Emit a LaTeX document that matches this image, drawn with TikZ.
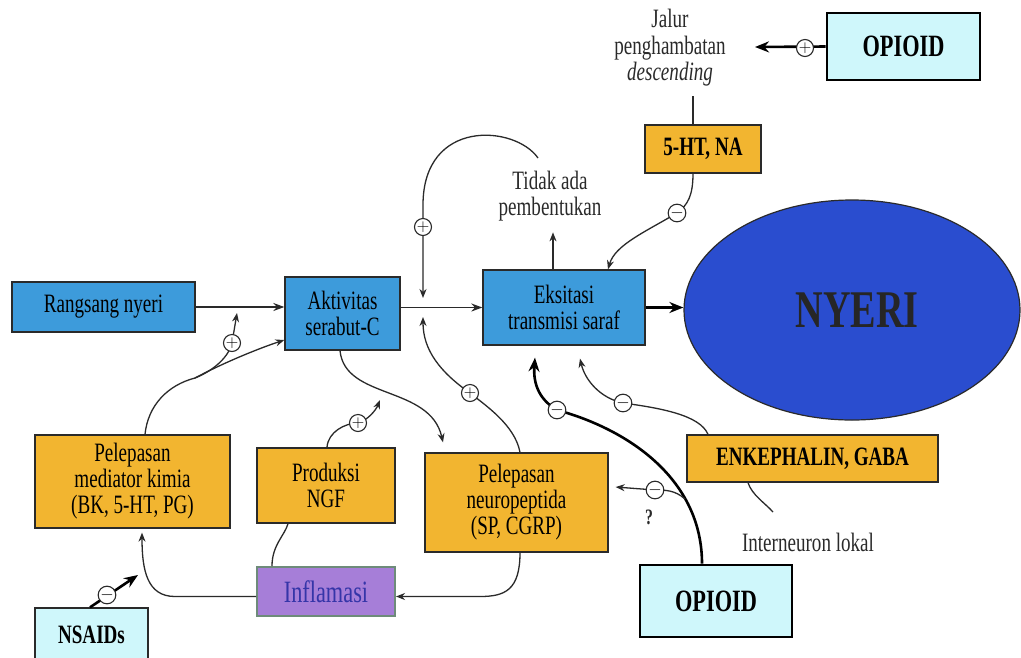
\documentclass[tikz,border=0pt]{standalone}
\usepackage{fontspec}
\setmainfont{Liberation Serif}[FakeStretch=0.72]
\usetikzlibrary{arrows.meta,shapes.geometric}
\definecolor{bluebox}{HTML}{3D9BDB}
\definecolor{orangebox}{HTML}{F2B530}
\definecolor{cyanbox}{HTML}{CFF7FB}
\definecolor{purplebox}{HTML}{A67ED8}
\definecolor{purpleedge}{HTML}{6E8B7A}
\definecolor{purpletext}{HTML}{3535A8}
\definecolor{ellblue}{HTML}{2A4DCF}
\definecolor{ink}{HTML}{2A2A2A}
\tikzset{
 box/.style={draw=ink, line width=1.3pt, align=center, inner sep=0pt, font=\fontsize{26.5}{26}\selectfont},
 bluebx/.style={box, fill=bluebox},
 orangebx/.style={box, fill=orangebox},
 cyanbx/.style={box, fill=cyanbox, draw=black, line width=2.6pt, font=\bfseries\fontsize{31}{31}\selectfont},
 lbl/.style={align=center, inner sep=0pt, font=\fontsize{26.5}{26.5}\selectfont, text=ink},
 con/.style={draw=ink, line width=1.3pt},
 arr/.style={con, -{Stealth[length=9pt,width=7pt]}},
 mainarr/.style={draw=ink, line width=1.8pt, -{Stealth[length=11pt,width=8pt]}},
 thickarr/.style={draw=black, line width=2.6pt, -{Stealth[length=14pt,width=11pt]}},
 sign/.style={circle, draw=ink, fill=white, line width=1.1pt, minimum size=17pt, inner sep=0pt, font=\fontsize{17}{17}\selectfont},
}
\begin{document}
\begin{tikzpicture}[x=1pt,y=-1pt]
\useasboundingbox (0,0) rectangle (1021,657);
\fill[white] (0,0) rectangle (1021,657);

% ---- nodes ----
\node[bluebx, minimum width=183pt, minimum height=50pt] (rang) at (103.5,307) {Rangsang nyeri};
\node[bluebx, minimum width=115pt, minimum height=73pt] (akt) at (342.5,313.5) {Aktivitas\\serabut-C};
\node[bluebx, minimum width=162pt, minimum height=75pt] (eks) at (564,307.5) {Eksitasi\\transmisi saraf};
\node[ellipse, draw=ink, fill=ellblue, line width=1.2pt, minimum width=336pt, minimum height=220pt, inner sep=0pt,
      font=\bfseries\fontsize{53}{53}\selectfont, text=black!85] (nyeri) at (852,310) {\hspace{10pt}NYERI};
\node[orangebx, minimum width=116pt, minimum height=48pt, font=\bfseries\fontsize{26.5}{26}\selectfont] (sht) at (703,149) {5-HT, NA};
\node[cyanbx, minimum width=153pt, minimum height=67pt] (opT) at (903.5,46.5) {OPIOID};
\node[lbl] (jalur) at (670,48) {Jalur\\penghambatan\\\textit{descending}};
\node[lbl] (tidak) at (550,196) {Tidak ada\\pembentukan};
\node[orangebx, minimum width=183pt, minimum height=99pt] (neuro) at (516.5,502.5) {Pelepasan\\neuropeptida\\(SP, CGRP)};
\node[orangebx, minimum width=138pt, minimum height=75pt] (ngf) at (326,485.5) {Produksi\\NGF};
\node[box, fill=purplebox, draw=purpleedge, line width=2pt, minimum width=138pt, minimum height=49pt,
      font=\fontsize{31}{31}\selectfont, text=purpletext] (inflam) at (326,591.5) {Inflamasi};
\node[orangebx, minimum width=195pt, minimum height=93pt] (med) at (132.5,481.5) {Pelepasan\\mediator kimia\\(BK, 5-HT, PG)};
\node[box, fill=cyanbox, minimum width=113pt, minimum height=54pt, font=\bfseries\fontsize{26.5}{26}\selectfont] (nsaid) at (91.5,635) {NSAIDs};
\node[cyanbx, minimum width=152pt, minimum height=72pt] (opB) at (716,601) {OPIOID};
\node[orangebx, minimum width=251pt, minimum height=47pt, font=\bfseries\fontsize{26.5}{26}\selectfont] (enk) at (812.5,458.5) {ENKEPHALIN, GABA};
\node[lbl] (inter) at (808,542) {Interneuron lokal};
\node[lbl, font=\bfseries\fontsize{22}{22}\selectfont] (q) at (649,517) {?};

% ---- free ends ----
\coordinate (jt) at (755,47);
\coordinate (lpS) at (538,158);
\coordinate (lpE) at (423,298);
\coordinate (upE) at (423,317);
\coordinate (mb) at (195,378);
\coordinate (plE) at (237,313);
\coordinate (ngfE) at (380,400);
\coordinate (br2) at (685,499);
\coordinate (intE) at (773,512);

% ---- connectors ----
\draw[mainarr] (rang.east) -- (akt.west |- rang.east);
\draw[mainarr] (akt.east |- eks.west) -- (eks.west);
\draw[thickarr] (eks.east) -- (nyeri.west |- eks.east);
\draw[thickarr] (opT.west) -- (jt);
\draw[con] ([xshift=-10pt]sht.north) -- ++(0,-28);
\draw[arr] ([xshift=-10pt]sht.south) .. controls (693,195) and (688,205) .. (677,213)
           .. controls (645,232) and (615,245) .. ([xshift=44pt]eks.north);
\draw[arr] ([xshift=-11pt]eks.north) -- ++(0,-37);
\draw[arr] (lpS) .. controls (515,125) and (423,118) .. (423,205) -- (lpE);
\draw[arr] ([xshift=3.5pt]neuro.north) .. controls (515,425) and (485,405) .. (470,393)
           .. controls (440,372) and (423,350) .. (upE);
\draw[arr] ([xshift=-2.5pt]akt.south) .. controls (345,400) and (430,385) .. ([xshift=-73.5pt,yshift=10pt]neuro.north);
\draw[con] ([xshift=12.5pt]med.north) .. controls (148,405) and (168,385) .. (mb);
\draw[arr] (mb) .. controls (225,362) and (260,348) .. ([yshift=-26.5pt]akt.west);
\draw[arr] (mb) .. controls (215,370) and (229,356) .. (232,343) -- (plE);
\draw[arr] ([yshift=-5pt]inflam.west) -- (175,596.5) .. controls (147,596.5) and (142,570) .. ([xshift=9.5pt,yshift=-4pt]med.south);
\draw[arr] ([xshift=3.5pt]neuro.south) .. controls (520,590) and (505,596.5) .. (480,596.5) -- ([yshift=-5pt]inflam.east);
\draw[con] ([xshift=-54pt]inflam.north) .. controls (272,545) and (285,535) .. ([xshift=-38pt]ngf.south);
\draw[arr] ([xshift=1pt]ngf.north) .. controls (328,432) and (345,423) .. (358,423)
           .. controls (368,420) and (376,410) .. (ngfE);
\draw[thickarr] ([xshift=-1.5pt]nsaid.north) -- (138,575);
\draw[thickarr] ([xshift=-14pt]opB.north) .. controls (702,480) and (630,430) .. (557,410)
           .. controls (540,400) and (533,385) .. ([xshift=-29pt,yshift=-12pt]eks.south);
\draw[arr] (br2) .. controls (675,490) and (665,490) .. (655,490) -- ([xshift=7pt,yshift=15.5pt]neuro.east);
\draw[arr] ([xshift=-104.5pt]enk.north) .. controls (700,415) and (660,408) .. (623,403)
           .. controls (600,398) and (585,380) .. ([xshift=16pt,yshift=-13pt]eks.south);
\draw[con] ([xshift=-64.5pt]enk.south) .. controls (752,495) and (765,503) .. (intE);

% ---- signs ----
\node[sign] (s1) at (805,48) {$+$};
\node[sign] (s2) at (677,213) {$-$};
\node[sign] (s3) at (423,227) {$+$};
\node[sign] (s4) at (470,393) {$+$};
\node[sign] (s5) at (232,343) {$+$};
\node[sign] (s6) at (358,423) {$+$};
\node[sign] (s7) at (107,595) {$-$};
\node[sign] (s8) at (557,410) {$-$};
\node[sign] (s9) at (655,490) {$-$};
\node[sign] (s10) at (623,403) {$-$};
\end{tikzpicture}
\end{document}
